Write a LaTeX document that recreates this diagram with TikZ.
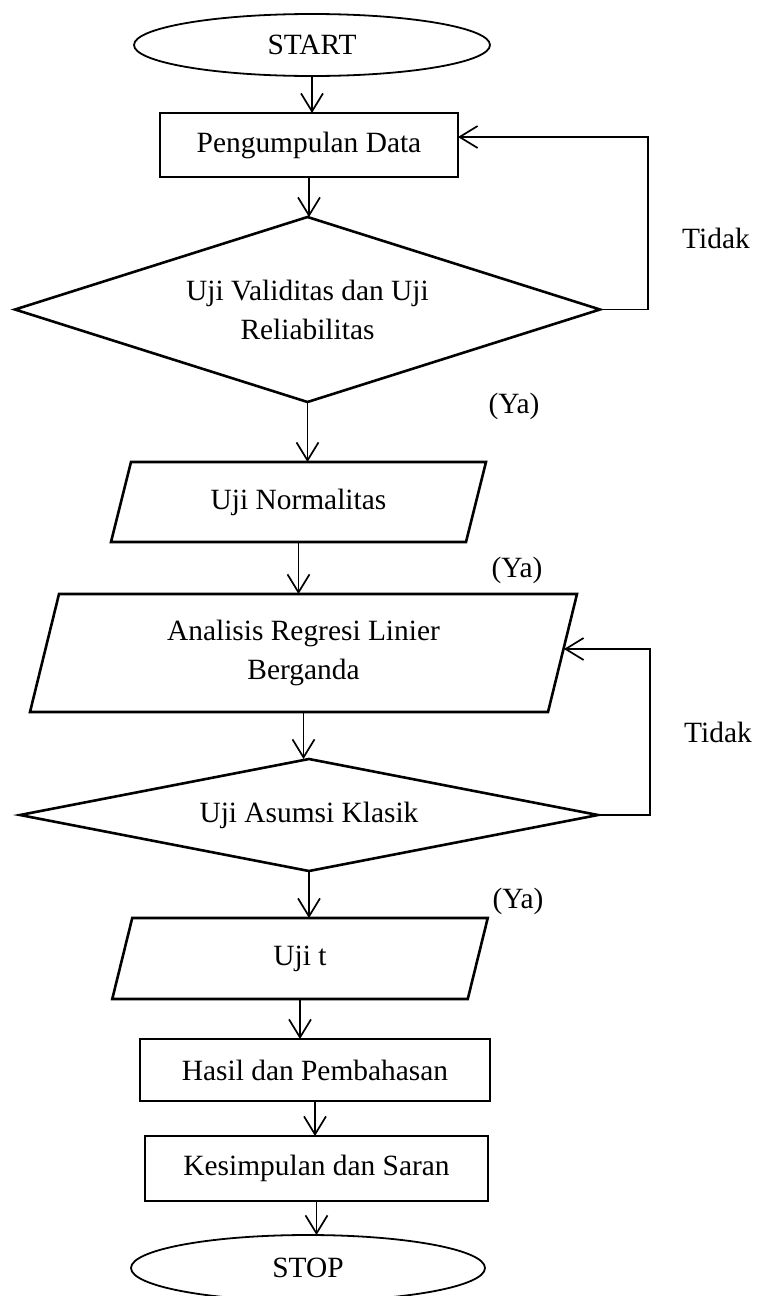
\documentclass[tikz,border=0pt]{standalone}
\usepackage{fontspec}
\setmainfont{Liberation Serif}
\usetikzlibrary{shapes.geometric,arrows.meta}
\begin{document}
\begin{tikzpicture}[x=0.5pt,y=-0.5pt,
  every node/.style={font=\fontsize{14.7}{19.5}\selectfont, inner sep=0pt, outer sep=0pt},
  term/.style={draw, line width=0.9pt, ellipse},
  proc/.style={draw, line width=1.3pt, rectangle},
  box/.style={rectangle, align=center},
  outline/.style={line width=1.3pt, line join=miter},
  arr/.style={line width=0.85pt, -{Straight Barb[length=9pt,width=11pt]}},
  fb/.style={line width=0.85pt}
]
\useasboundingbox (0,0) rectangle (758,1296);

% nodes
\node[term, minimum width=178pt, minimum height=31pt] (start) at (312,45) {START};
\node[proc, minimum width=149pt, minimum height=32pt] (pd) at (309,145) {Pengumpulan Data};
\node[box, minimum width=292.5pt, minimum height=92.5pt] (d1) at (307.5,309.5) {Uji Validitas dan Uji\\Reliabilitas};
\draw[outline] (d1.north) -- (d1.east) -- (d1.south) -- (d1.west) -- cycle;
\node[box, minimum width=177.5pt, minimum height=40pt] (un) at (298.5,502) {Uji Normalitas};
\draw[outline] ([xshift=5pt]un.north west) -- ([xshift=5pt]un.north east) -- ([xshift=-5pt]un.south east) -- ([xshift=-5pt]un.south west) -- cycle;
\node[box, minimum width=259pt, minimum height=59pt] (ar) at (303.5,653) {Analisis Regresi Linier\\Berganda};
\draw[outline] ([xshift=7.25pt]ar.north west) -- ([xshift=7.25pt]ar.north east) -- ([xshift=-7.25pt]ar.south east) -- ([xshift=-7.25pt]ar.south west) -- cycle;
\node[box, minimum width=289pt, minimum height=56pt] (d2) at (309,815) {Uji Asumsi Klasik};
\draw[outline] (d2.north) -- (d2.east) -- (d2.south) -- (d2.west) -- cycle;
\node[box, minimum width=177.75pt, minimum height=40.5pt] (ut) at (300,958.5) {Uji t};
\draw[outline] ([xshift=5pt]ut.north west) -- ([xshift=5pt]ut.north east) -- ([xshift=-5pt]ut.south east) -- ([xshift=-5pt]ut.south west) -- cycle;
\node[proc, minimum width=175pt, minimum height=31pt] (hp) at (315,1070) {Hasil dan Pembahasan};
\node[proc, minimum width=171.5pt, minimum height=32.5pt] (ks) at (316.5,1168.5) {Kesimpulan dan Saran};
\node[term, minimum width=177pt, minimum height=33pt] (stop) at (308,1268) {STOP};

% labels
\node (t1) at (716,238) {Tidak};
\node (t2) at (718,732) {Tidak};
\node[anchor=base] (y1) at (514,413) {(Ya)};
\node[anchor=base] (y2) at (517,577) {(Ya)};
\node[anchor=base] (y3) at (518,908) {(Ya)};

% main flow
\draw[arr] (start.south) -- (start.south |- pd.north);
\draw[arr] (pd.south) -- (pd.south |- d1.north);
\draw[arr] (d1.south) -- (d1.south |- un.north);
\draw[arr] (un.south) -- (un.south |- ar.north);
\draw[arr] (ar.south) -- (ar.south |- d2.north);
\draw[arr] (d2.south) -- (d2.south |- ut.north);
\draw[arr] (ut.south) -- (ut.south |- hp.north);
\draw[arr] (hp.south) -- (hp.south |- ks.north);
\draw[arr] (ks.south) -- (ks.south |- stop.north);

% feedback loops
\coordinate (c1) at (648,137);
\draw[arr] (d1.east) -| (c1) -- (c1 -| pd.east);
\coordinate (c2) at (650,649);
\coordinate (c2e) at (564,649);
\draw[arr] (d2.east) -| (c2) -- (c2e);
\end{tikzpicture}
\end{document}
